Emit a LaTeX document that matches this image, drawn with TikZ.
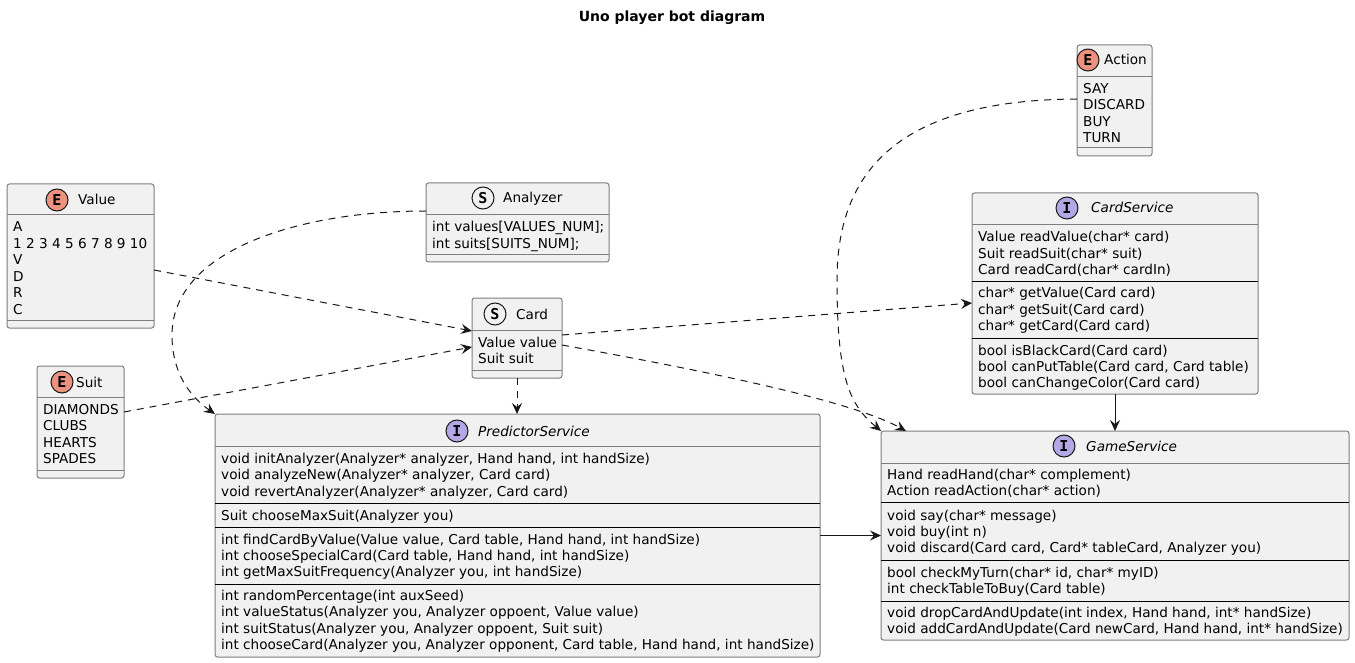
\documentclass[tikz,border=0pt]{standalone}
\usepackage{fontspec}
\setmainfont{DejaVu Sans}
\newfontfamily\iconfont{DejaVu Sans Mono}
\usetikzlibrary{arrows.meta,calc}
\definecolor{boxfill}{HTML}{F1F1F1}
\definecolor{boxline}{HTML}{7E7E7E}
\definecolor{linecol}{HTML}{181818}
\definecolor{ecol}{HTML}{EB937F}
\definecolor{icol}{HTML}{B4A7E5}
\tikzset{
  umlbox/.style={draw=boxline, fill=boxfill, rounded corners=2.5pt, line width=1pt, inner sep=0pt, outer sep=0pt},
  hsep/.style={draw=boxline, line width=1pt},
  msep/.style={draw=black, line width=1pt},
  txt/.style={anchor=base west, inner sep=0pt, font=\fontsize{13.6}{16}\selectfont},
  itxt/.style={anchor=base west, inner sep=0pt, font=\fontsize{13.6}{16}\selectfont\itshape},
  icon/.style={circle, draw=linecol, line width=1pt, minimum size=22pt, inner sep=0pt, font=\iconfont\bfseries\fontsize{15}{15}\selectfont},
  dep/.style={draw=linecol, line width=1pt, dash pattern=on 7pt off 6pt, -{Stealth[length=11pt,width=10pt,inset=4pt]}},
  assoc/.style={draw=linecol, line width=1pt, -{Stealth[length=11pt,width=10pt,inset=4pt]}},
}
\newcommand\members[3]{\foreach \t [count=\i from 0] in {#3} {\node[txt] at (#1,{#2+\i*16.4+5}) {\t};}}
\begin{document}
\begin{tikzpicture}[x=1pt,y=-1pt]
\useasboundingbox (0,0) rectangle (1355,663);
\node[font=\bfseries\fontsize{14}{16}\selectfont] (title) at (672,18) {Uno player bot diagram};

% ---------- Value
\node[umlbox, minimum width=147pt, minimum height=144pt] (value) at (80.5,256) {};
\node[icon, fill=ecol] (valueicon) at (57,200) {E};
\node[txt] (valuename) at (78,205) {Value};
\draw[hsep] (7,215) -- (154,215);
\members{13}{227}{A,{1 2 3 4 5 6 7 8 9 10},V,D,R,C}
\draw[hsep] (7,320) -- (154,320);

% ---------- Suit
\node[umlbox, minimum width=87pt, minimum height=112pt] (suit) at (80.5,422) {};
\node[icon, fill=ecol] (suiticon) at (62,382) {E};
\node[txt] (suitname) at (76,387) {Suit};
\draw[hsep] (37,397) -- (124,397);
\members{43}{409.5}{DIAMONDS,CLUBS,HEARTS,SPADES}
\draw[hsep] (37,470) -- (124,470);

% ---------- Action
\node[umlbox, minimum width=75pt, minimum height=111pt] (action) at (1114.5,100.5) {};
\node[icon, fill=ecol] (actionicon) at (1088,60) {E};
\node[txt] (actionname) at (1104,65) {Action};
\draw[hsep] (1077,77) -- (1152,77);
\members{1083}{88.5}{SAY,DISCARD,BUY,TURN}
\draw[hsep] (1077,148) -- (1152,148);

% ---------- Analyzer
\node[umlbox, minimum width=183pt, minimum height=79pt] (analyzer) at (517.5,222.5) {};
\node[icon, fill=boxfill] (analyzericon) at (483,198) {S};
\node[txt] (analyzername) at (503,203) {Analyzer};
\draw[hsep] (426,214.5) -- (609,214.5);
\members{432}{227}{{int values[VALUES\_NUM];},{int suits[SUITS\_NUM];}}
\draw[hsep] (426,255) -- (609,255);

% ---------- Card
\node[umlbox, minimum width=90pt, minimum height=80pt] (card) at (517,338) {};
\node[icon, fill=boxfill] (cardicon) at (495,314) {S};
\node[txt] (cardname) at (516,319) {Card};
\draw[hsep] (472,330) -- (562,330);
\members{478}{342.5}{Value value,Suit suit}
\draw[hsep] (472,370) -- (562,370);

% ---------- CardService
\node[umlbox, minimum width=286pt, minimum height=201pt] (cardservice) at (1115,293.5) {};
\node[icon, fill=icol] (csicon) at (1067,208) {I};
\node[itxt] (csname) at (1091,213) {CardService};
\draw[hsep] (972,224.5) -- (1258,224.5);
\members{978}{237}{{Value readValue(char* card)},{Suit readSuit(char* suit)},{Card readCard(char* cardIn)}}
\draw[msep] (972,281) -- (1258,281);
\members{978}{293}{{char* getValue(Card card)},{char* getSuit(Card card)},{char* getCard(Card card)}}
\draw[msep] (972,338) -- (1258,338);
\members{978}{350}{{bool isBlackCard(Card card)},{bool canPutTable(Card card, Card table)},{bool canChangeColor(Card card)}}

% ---------- PredictorService
\node[umlbox, minimum width=605pt, minimum height=243pt] (pred) at (517.5,535.5) {};
\node[icon, fill=icol] (predicon) at (457,431) {I};
\node[itxt] (predname) at (478,436) {PredictorService};
\draw[hsep] (215,446.5) -- (820,446.5);
\members{221}{458.5}{{void initAnalyzer(Analyzer* analyzer, Hand hand, int handSize)},{void analyzeNew(Analyzer* analyzer, Card card)},{void revertAnalyzer(Analyzer* analyzer, Card card)}}
\draw[msep] (215,503) -- (820,503);
\members{221}{515}{{Suit chooseMaxSuit(Analyzer you)}}
\draw[msep] (215,527) -- (820,527);
\members{221}{539}{{int findCardByValue(Value value, Card table, Hand hand, int handSize)},{int chooseSpecialCard(Card table, Hand hand, int handSize)},{int getMaxSuitFrequency(Analyzer you, int handSize)}}
\draw[msep] (215,584) -- (820,584);
\members{221}{595.5}{{int randomPercentage(int auxSeed)},{int valueStatus(Analyzer you, Analyzer oppoent, Value value)},{int suitStatus(Analyzer you, Analyzer oppoent, Suit suit)},{int chooseCard(Analyzer you, Analyzer opponent, Card table, Hand hand, int handSize)}}

% ---------- GameService
\node[umlbox, minimum width=468pt, minimum height=209pt] (game) at (1115,535.5) {};
\node[icon, fill=icol] (gameicon) at (1064,446) {I};
\node[itxt] (gamename) at (1086,451) {GameService};
\draw[hsep] (881,463) -- (1349,463);
\members{887}{474.5}{{Hand readHand(char* complement)},{Action readAction(char* action)}}
\draw[msep] (881,502) -- (1349,502);
\members{887}{515}{{void say(char* message)},{void buy(int n)},{void discard(Card card, Card* tableCard, Analyzer you)}}
\draw[msep] (881,560) -- (1349,560);
\members{887}{572}{{bool checkMyTurn(char* id, char* myID)},{int checkTableToBuy(Card table)}}
\draw[msep] (881,601) -- (1349,601);
\members{887}{612.5}{{void dropCardAndUpdate(int index, Hand hand, int* handSize)},{void addCardAndUpdate(Card newCard, Hand hand, int* handSize)}}

% ---------- connectors
\draw[dep] ($(value.north east)+(0,86)$) -- ($(card.north west)+(0,33)$);
\draw[dep] ($(suit.north east)+(0,46)$) -- ($(card.north west)+(0,49)$);
\draw[dep] ($(analyzer.north west)+(0,28)$) .. controls (300,211) and (172,250) .. (172,335) .. controls (172,378) and (195,400) .. (pred.north west);
\draw[dep] (card.south) -- (card.south |- pred.north);
\draw[dep] ($(card.north east)+(0,37)$) -- ($(cardservice.north west)+(0,110)$);
\draw[dep] ($(card.north east)+(0,47)$) .. controls (700,370) and (850,400) .. ($(game.north west)+(25,0)$);
\draw[dep] ($(action.north west)+(0,54)$) .. controls (900,100) and (837,170) .. (837,280) .. controls (837,380) and (850,405) .. (game.north west);
\draw[assoc] (cardservice.south) -- (game.north);
\draw[assoc] (pred.east) -- (pred.east -| game.west);
\end{tikzpicture}
\end{document}
